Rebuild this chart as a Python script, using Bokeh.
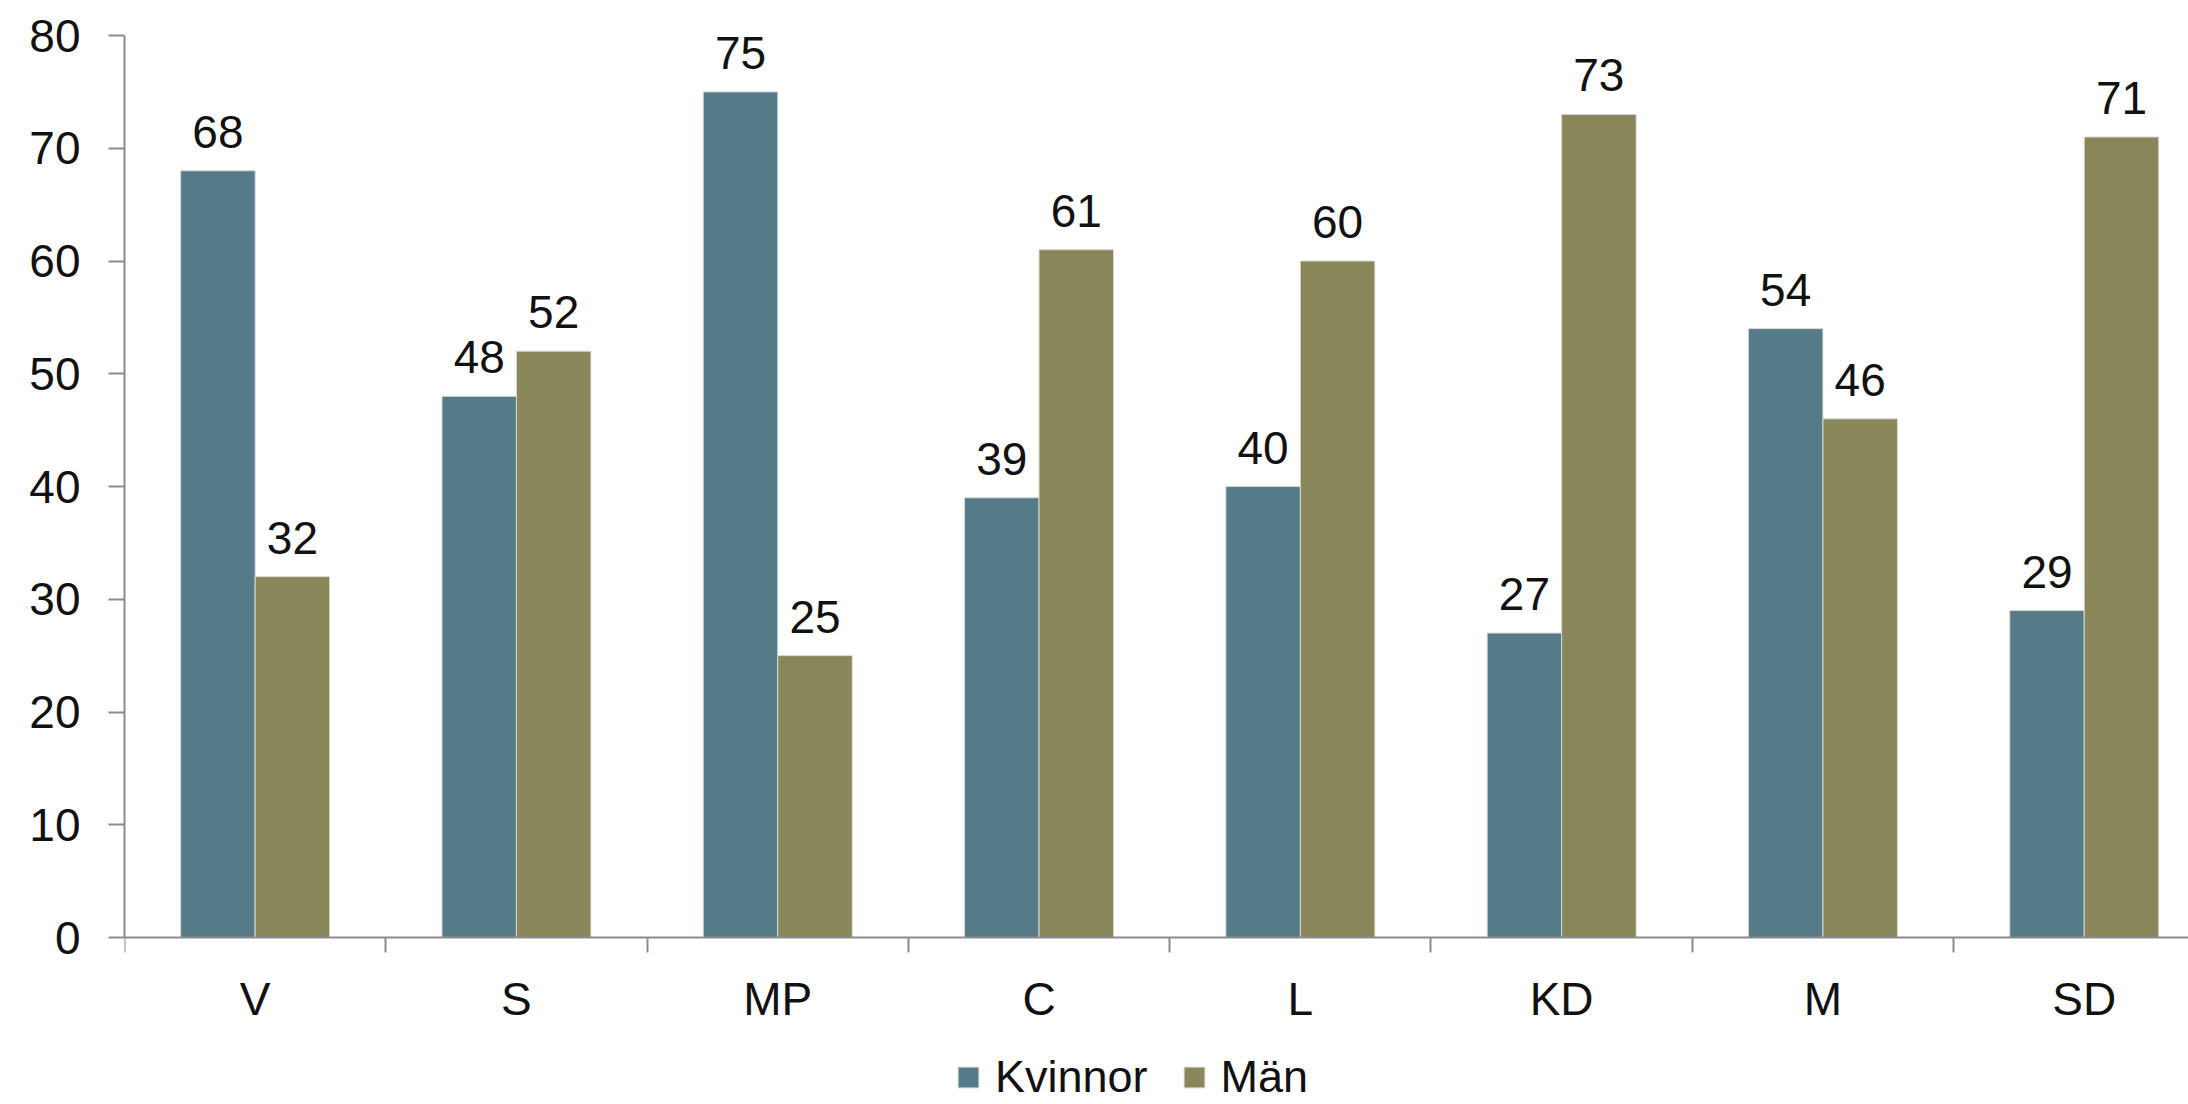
import numpy as np
from bokeh.plotting import figure
from bokeh.models import (ColumnDataSource, FixedTicker, LabelSet, Legend,
                          LegendItem, Range1d, LinearAxis)
from bokeh.core.properties import value
from bokeh.transform import dodge
from bokeh.embed import file_html
from bokeh.resources import INLINE

categories = ["V", "S", "MP", "C", "L", "KD", "M", "SD"]
kvinnor = [68, 48, 75, 39, 40, 27, 54, 29]
man = [32, 52, 25, 61, 60, 73, 46, 71]
y_ticks = [0, 10, 20, 30, 40, 50, 60, 70, 80]

FONT = "Liberation Sans"
C_K = "#567b88"
C_M = "#89865a"

centers = np.arange(len(categories)) + 0.5
src = ColumnDataSource(dict(
    x=centers,
    kvinnor=kvinnor,
    man=man,
    k_txt=[str(v) for v in kvinnor],
    m_txt=[str(v) for v in man],
))

# frame spans down to the bottom of the page so the legend can sit inside it
p = figure(width=2188, height=1104, output_backend="svg", toolbar_location=None,
           x_range=Range1d(0, 7.899), y_range=Range1d(-14.81, 80),
           min_border_left=124, min_border_top=35, min_border_right=0,
           min_border_bottom=0, x_axis_location=None, y_axis_location=None)
p.outline_line_color = None
p.xgrid.visible = False
p.ygrid.visible = False
p.background_fill_color = "white"

bw = 0.285
rk = p.vbar(x=dodge("x", -bw / 2), top="kvinnor", width=bw, source=src,
            fill_color=C_K, line_color="#d4d9d0", line_width=1)
rm = p.vbar(x=dodge("x", bw / 2), top="man", width=bw, source=src,
            fill_color=C_M, line_color="#d4d9d0", line_width=1)

for col, txt, off in (("kvinnor", "k_txt", -bw / 2), ("man", "m_txt", bw / 2)):
    ls = LabelSet(x=dodge("x", off), y=col, text=txt, source=src,
                  text_align="center", text_baseline="alphabetic", y_offset=23,
                  text_font=value(FONT), text_font_size="46px", text_color="#111111")
    p.add_layout(ls)

# x axis, fixed at y = 0
xa = LinearAxis(fixed_location=0)
xa.ticker = FixedTicker(ticks=list(centers), minor_ticks=list(range(len(categories))))
xa.major_label_overrides = {float(c): cat for c, cat in zip(centers, categories)}
xa.major_tick_line_color = None
xa.major_tick_out = 0
xa.major_tick_in = 0
xa.minor_tick_out = 15
xa.minor_tick_in = 0
xa.minor_tick_line_color = "#8c8c8c"
xa.minor_tick_line_width = 2
xa.axis_line_color = "#8c8c8c"
xa.axis_line_width = 2
xa.major_label_standoff = 20
xa.major_label_text_font = FONT
xa.major_label_text_font_size = "46px"
xa.major_label_text_color = "#111111"
p.add_layout(xa, "below")

ya = LinearAxis(bounds=(0, 80))
ya.ticker = FixedTicker(ticks=y_ticks)
ya.major_tick_out = 16
ya.major_tick_in = 0
ya.minor_tick_line_color = None
ya.major_tick_line_color = "#8c8c8c"
ya.major_tick_line_width = 2
ya.axis_line_color = "#8c8c8c"
ya.axis_line_width = 2
ya.major_label_standoff = 28
ya.major_label_text_font = FONT
ya.major_label_text_font_size = "46px"
ya.major_label_text_color = "#111111"
p.add_layout(ya, "left")

lg = Legend(items=[LegendItem(label="Kvinnor", renderers=[rk]),
                   LegendItem(label="Män", renderers=[rm])],
            location=(831, 1), orientation="horizontal",
            glyph_width=26, glyph_height=26, label_standoff=14, spacing=33,
            padding=0, margin=0, border_line_color=None,
            background_fill_alpha=0, label_text_font=FONT,
            label_text_font_size="45px", label_text_color="#111111")
p.add_layout(lg, "center")

open("out.html", "w").write(file_html(p, INLINE))
